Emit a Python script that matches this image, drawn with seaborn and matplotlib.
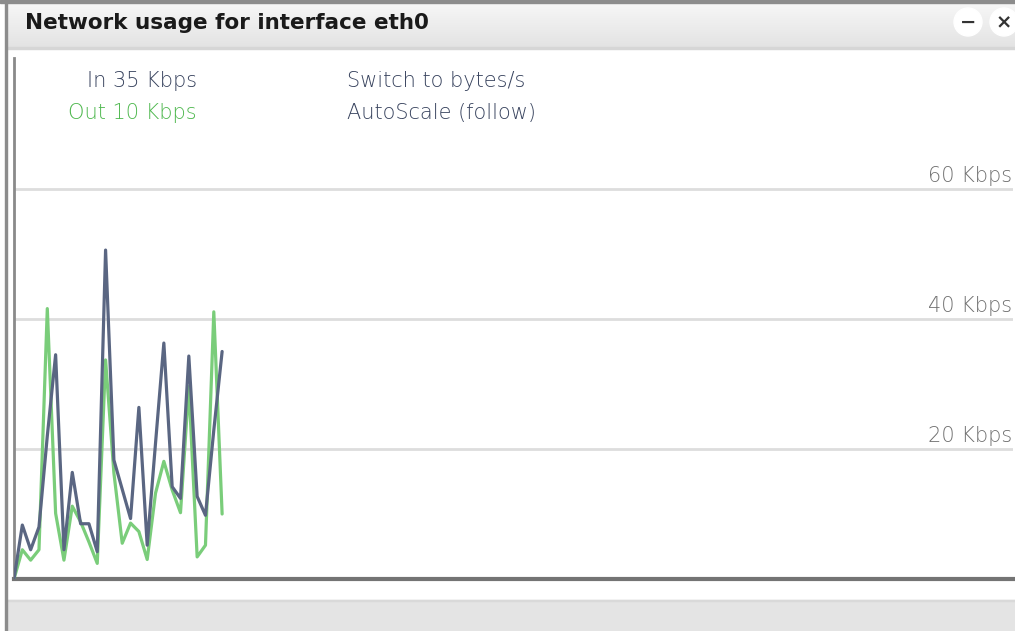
import matplotlib
matplotlib.use("Agg")
import numpy as np
import pandas as pd
import seaborn as sns
import matplotlib.pyplot as plt
from matplotlib.patches import Rectangle, Circle
from matplotlib.colors import LinearSegmentedColormap
from matplotlib import transforms

# Throughput samples (Kbps), one per polling interval
in_kbps = [0, 8.3, 4.5, 8.0, 22.0, 34.5, 4.5, 16.4, 8.5, 8.5, 4.2, 50.6, 18.3,
           13.8, 9.3, 26.4, 5.2, 20.9, 36.3, 14.2, 12.4, 34.3, 12.7, 9.8, 22.9, 35.0]
out_kbps = [0, 4.5, 2.9, 4.5, 41.6, 10.1, 2.9, 11.2, 8.8, 5.7, 2.4, 33.7, 16.3,
            5.5, 8.6, 7.3, 3.0, 13.2, 18.1, 13.7, 10.2, 29.6, 3.4, 5.2, 41.1, 10.0]
grid_ticks = [20, 40, 60]
tick_labels = ["20 Kbps", "40 Kbps", "60 Kbps"]
window_samples = 120
y_max = 80.15

interface = "eth0"
IN_COLOR = "#5a6682"
OUT_COLOR = "#7acd7a"

W, H = 1015, 631
sns.set_theme(style="white")
plt.rcParams["font.family"] = ["DejaVu Sans"]

fig = plt.figure(figsize=(W / 100, H / 100), dpi=100)
fig.patch.set_facecolor("white")

# Window chrome drawn in pixel coordinates
chrome = fig.add_axes([0, 0, 1, 1], zorder=0)
chrome.set_axis_off()
grad = np.linspace(0, 1, 64).reshape(-1, 1)
cmap = LinearSegmentedColormap.from_list("bar", ["#f7f7f7", "#e3e3e3"])
chrome.imshow(grad, extent=(6, W, 48, 2), aspect="auto", cmap=cmap, zorder=1)
chrome.add_patch(Rectangle((6, 47), W, 1.5, color="#d6d6d6", zorder=2))
chrome.add_patch(Rectangle((0, 0), W, 2.5, color="#8c8c8c", zorder=3))
chrome.add_patch(Rectangle((5, 0), 2, H, color="#8c8c8c", zorder=3))
chrome.add_patch(Rectangle((7, 600), W, H - 600, color="#e4e4e4", zorder=1))
chrome.add_patch(Rectangle((7, 599.5), W, 1.2, color="#d9d9d9", zorder=2))
chrome.set_xlim(0, W)
chrome.set_ylim(H, 0)

chrome.text(25, 23, f"Network usage for interface {interface}", fontsize=15.5,
            fontweight="bold", color="#1a1a1a", ha="left", va="center", zorder=4)
for cx, sym in [(968, "\u2212"), (1004, "\u00d7")]:
    chrome.add_patch(Circle((cx, 22), 14, color="white", zorder=4))
    chrome.text(cx, 22.5, sym, fontsize=14, fontweight="bold", color="#333333",
                ha="center", va="center", zorder=5)

# Legend / controls
label_kw = dict(fontsize=15, fontweight="light", va="baseline", zorder=4)
chrome.text(197, 87, f"In {in_kbps[-1]:.0f} Kbps", color="#38435e", ha="right", **label_kw)
chrome.text(197, 119, f"Out {out_kbps[-1]:.0f} Kbps", color="#4fb84f", ha="right", **label_kw)
chrome.text(347, 87, "Switch to bytes/s", color="#38435e", ha="left", **label_kw)
chrome.text(347, 119, "AutoScale (follow)", color="#38435e", ha="left", **label_kw)

# Plot area
left, top, right, bottom = 14, 58, 1013, 579
ax = fig.add_axes([left / W, 1 - bottom / H, (right - left) / W, (bottom - top) / H], zorder=2)
ax.patch.set_alpha(0)

df = pd.DataFrame({
    "sample": list(range(len(in_kbps))) * 2,
    "kbps": out_kbps + in_kbps,
    "direction": ["Out"] * len(out_kbps) + ["In"] * len(in_kbps),
})
sns.lineplot(data=df, x="sample", y="kbps", hue="direction", hue_order=["Out", "In"],
             palette={"In": IN_COLOR, "Out": OUT_COLOR}, linewidth=2.3,
             legend=False, ax=ax, zorder=3)

ax.set_xlim(0, window_samples)
ax.set_ylim(0, y_max)
ax.set_yticks(grid_ticks)
ax.set_xticks([])
ax.set_xlabel("")
ax.set_ylabel("")
ax.tick_params(left=False, labelleft=False, bottom=False, labelbottom=False)
ax.grid(axis="y", color="#dddddd", linewidth=2)
ax.grid(axis="x", visible=False)
ax.set_axisbelow(True)
for s in ["top", "right"]:
    ax.spines[s].set_visible(False)
ax.spines["left"].set_color("#8a8a8a")
ax.spines["left"].set_linewidth(2)
ax.spines["bottom"].set_color("#747474")
ax.spines["bottom"].set_linewidth(3)

trans = transforms.blended_transform_factory(ax.transAxes, ax.transData)
for v, lab in zip(grid_ticks, tick_labels):
    ax.annotate(lab, xy=(0.999, v), xycoords=trans, xytext=(0, 7),
                textcoords="offset pixels", ha="right", va="baseline",
                fontsize=15, fontweight="light", color="#707070")

fig.savefig("out.png", dpi=100, facecolor=fig.get_facecolor())
